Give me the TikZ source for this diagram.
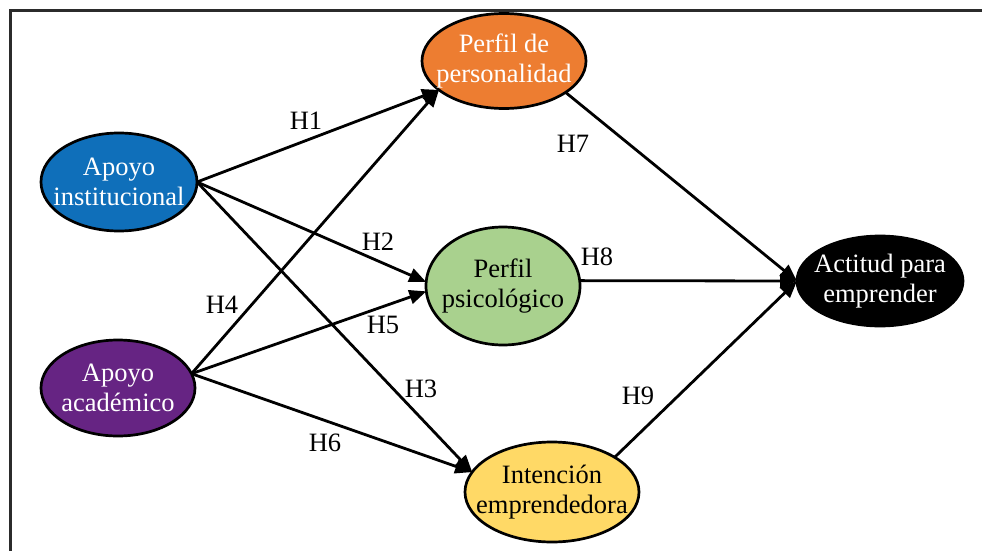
\documentclass[tikz,border=0pt]{standalone}
\usepackage{fontspec}
\setmainfont{Liberation Serif}
\usetikzlibrary{arrows.meta,shapes.geometric}
\definecolor{corange}{HTML}{ED7D31}
\definecolor{cblue}{HTML}{0F6FBA}
\definecolor{cpurple}{HTML}{662483}
\definecolor{cgreen}{HTML}{A9D18E}
\definecolor{cyellow}{HTML}{FFD966}
\definecolor{cframe}{HTML}{2B2B2B}
\begin{document}
\begin{tikzpicture}[x=1pt,y=-1pt,
  var/.style={ellipse, draw=black, line width=2.7pt, inner xsep=-40pt, inner ysep=-25pt, outer sep=0pt,
    align=center, font=\fontsize{26.5}{30}\selectfont},
  link/.style={line width=2.8pt, -{Triangle[length=17pt,width=14pt]}},
  hlab/.style={font=\fontsize{26.5}{30}\selectfont, inner sep=0pt}]
\useasboundingbox (0,0) rectangle (982,551);
\draw[cframe, line width=3pt] (10,551) -- (10,11) -- (982,11);
% nodes
\node[var, fill=corange, text=white, minimum width=164pt, minimum height=95pt] (pp) at (504,61) {Perfil de\\personalidad};
\node[var, fill=cblue, text=white, minimum width=156pt, minimum height=98pt] (ai) at (119,182) {Apoyo\\institucional};
\node[var, fill=cpurple, text=white, minimum width=154pt, minimum height=96pt] (aa) at (118,388) {Apoyo\\académico};
\node[var, fill=cgreen, text=black, minimum width=154pt, minimum height=118pt] (ps) at (503,286) {Perfil\\psicológico};
\node[var, fill=cyellow, text=black, minimum width=174pt, minimum height=100pt] (ie) at (552,492) {Intención\\emprendedora};
\node[var, fill=black, text=white, minimum width=166pt, minimum height=90pt] (ac) at (880,281) {Actitud para\\emprender};
% connectors
\draw[link] (ai.east) -- (pp.204);
\draw[link] (ai.east) -- (ps.177);
\draw[link] (ai.east) -- (ie.166);
\draw[link] (aa.11) -- (pp.204);
\draw[link] (aa.11) -- (ps.184);
\draw[link] (aa.11) -- (ie.166);
\draw[link] (pp.333) -- (ac.west);
\draw[link] (ps.4) -- (ac.west);
\draw[link] (ie.29) -- (ac.west);
% labels
\node[hlab] (h1) at (306,121) {H1};
\node[hlab] (h2) at (378,242) {H2};
\node[hlab] (h3) at (421,389) {H3};
\node[hlab] (h4) at (222,305) {H4};
\node[hlab] (h5) at (383,325) {H5};
\node[hlab] (h6) at (325,443) {H6};
\node[hlab] (h7) at (573,144) {H7};
\node[hlab] (h8) at (597,257) {H8};
\node[hlab] (h9) at (638,396) {H9};
\end{tikzpicture}
\end{document}
